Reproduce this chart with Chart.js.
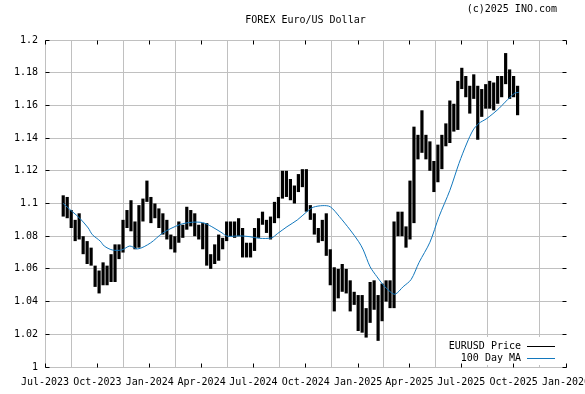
<!DOCTYPE html>
<html>
<head>
<meta charset="utf-8">
<title>FOREX Euro/US Dollar</title>
<script src="https://cdn.jsdelivr.net/npm/chart.js@4.4.1/dist/chart.umd.min.js"></script>
<style>
  html, body { margin: 0; padding: 0; background: #fff; }
  #wrap { width: 585px; height: 394px; }
</style>
</head>
<body>
<div id="wrap"><canvas id="fxChart" width="585" height="394"></canvas></div>
<script>
// axis: quarter starts and their labels
const tickDates = ['2023-07-01', '2023-10-01', '2024-01-01', '2024-04-01', '2024-07-01', '2024-10-01',
                   '2025-01-01', '2025-04-01', '2025-07-01', '2025-10-01', '2026-01-01'];
const tickLabels = ['Jul-2023', 'Oct-2023', 'Jan-2024', 'Apr-2024', 'Jul-2024', 'Oct-2024',
                    'Jan-2025', 'Apr-2025', 'Jul-2025', 'Oct-2025', 'Jan-2026'];
const yTicks = [1, 1.02, 1.04, 1.06, 1.08, 1.1, 1.12, 1.14, 1.16, 1.18, 1.2];

// EURUSD weekly low / high, one entry per week, first week starts Mon 31 Jul 2023
const firstWeek = '2023-07-31';
const weekLow = [
  1.092, 1.091, 1.085, 1.077, 1.078, 1.069, 1.063, 1.062, 1.049, 1.045,
  1.050, 1.050, 1.052, 1.052, 1.066, 1.070, 1.085, 1.083, 1.072, 1.073,
  1.089, 1.101, 1.088, 1.091, 1.085, 1.081, 1.078, 1.072, 1.070, 1.076,
  1.079, 1.084, 1.086, 1.080, 1.078, 1.072, 1.062, 1.060, 1.063, 1.065,
  1.072, 1.077, 1.080, 1.079, 1.080, 1.067, 1.067, 1.067, 1.071, 1.079,
  1.087, 1.082, 1.078, 1.088, 1.091, 1.103, 1.104, 1.102, 1.100, 1.107,
  1.110, 1.095, 1.090, 1.081, 1.076, 1.077, 1.068, 1.050, 1.034, 1.042,
  1.046, 1.045, 1.034, 1.038, 1.022, 1.021, 1.018, 1.027, 1.035, 1.016,
  1.028, 1.040, 1.036, 1.036, 1.080, 1.080, 1.073, 1.078, 1.088, 1.127,
  1.131, 1.127, 1.120, 1.107, 1.113, 1.121, 1.135, 1.137, 1.144, 1.145,
  1.170, 1.165, 1.155, 1.164, 1.139, 1.153, 1.158, 1.158, 1.157, 1.161,
  1.165, 1.173, 1.164, 1.165, 1.154
];
const weekHigh = [
  1.105, 1.104, 1.096, 1.090, 1.094, 1.080, 1.077, 1.073, 1.062, 1.059,
  1.064, 1.062, 1.069, 1.075, 1.075, 1.090, 1.096, 1.102, 1.089, 1.099,
  1.103, 1.114, 1.104, 1.100, 1.097, 1.094, 1.090, 1.081, 1.080, 1.089,
  1.087, 1.098, 1.096, 1.094, 1.087, 1.088, 1.088, 1.069, 1.075, 1.081,
  1.079, 1.089, 1.089, 1.089, 1.091, 1.085, 1.076, 1.076, 1.085, 1.091,
  1.095, 1.090, 1.092, 1.101, 1.104, 1.120, 1.120, 1.115, 1.111, 1.118,
  1.121, 1.121, 1.099, 1.094, 1.085, 1.090, 1.094, 1.072, 1.061, 1.060,
  1.063, 1.060, 1.053, 1.046, 1.044, 1.044, 1.036, 1.052, 1.053, 1.044,
  1.051, 1.053, 1.053, 1.089, 1.095, 1.095, 1.086, 1.114, 1.147, 1.142,
  1.157, 1.142, 1.138, 1.126, 1.136, 1.142, 1.149, 1.163, 1.161, 1.175,
  1.183, 1.178, 1.172, 1.179, 1.172, 1.170, 1.173, 1.175, 1.174, 1.178,
  1.178, 1.192, 1.182, 1.178, 1.172
];

// 100 day moving average
const maDates = [
  '2023-08-02', '2023-08-18', '2023-08-31', '2023-09-15', '2023-09-22', '2023-10-06', '2023-10-13',
  '2023-10-27', '2023-11-13', '2023-11-27', '2023-12-11', '2024-01-02', '2024-01-24', '2024-02-22',
  '2024-03-14', '2024-04-03', '2024-04-19', '2024-05-07', '2024-05-16', '2024-06-07', '2024-06-25',
  '2024-07-12', '2024-08-02', '2024-08-12', '2024-08-29', '2024-09-16', '2024-10-03', '2024-10-14',
  '2024-10-31', '2024-11-13', '2024-11-29', '2024-12-18', '2025-01-02', '2025-01-10', '2025-01-22',
  '2025-02-03', '2025-02-14', '2025-02-26', '2025-03-07', '2025-03-21', '2025-04-04', '2025-04-18',
  '2025-05-07', '2025-05-23', '2025-06-11', '2025-06-27', '2025-07-11', '2025-07-22', '2025-08-01',
  '2025-08-15', '2025-09-05', '2025-09-16', '2025-09-25', '2025-10-03', '2025-10-10'
];
const maValues = [
  1.100, 1.095, 1.091, 1.085, 1.081, 1.077, 1.074, 1.0716, 1.0716, 1.074, 1.0722,
  1.0758, 1.082, 1.087, 1.0885, 1.0883, 1.0858, 1.082, 1.080, 1.0802, 1.0797,
  1.0787, 1.079, 1.0815, 1.0858, 1.0899, 1.095, 1.0977, 1.0987, 1.098, 1.092,
  1.0838, 1.0766, 1.0716, 1.0613, 1.0552, 1.0502, 1.0461, 1.0445, 1.0491, 1.0535,
  1.064, 1.0763, 1.092, 1.108, 1.1245, 1.137, 1.145, 1.149, 1.152, 1.158,
  1.162, 1.165, 1.1675, 1.168
];

const DAY = 86400000;
const origin = Date.parse(tickDates[0]);
const dayOf = d => (Date.parse(d) - origin) / DAY;
const firstDay = dayOf(firstWeek);

const priceData = weekLow.map((lo, i) => ({ x: firstDay + i * 7 + 2, y: [lo, weekHigh[i]] }));
const maData = maDates.map((d, i) => ({ x: dayOf(d), y: maValues[i] }));

const fontFace = '"DejaVu Sans Mono", "Liberation Mono", monospace';
const gridGray = '#c0c0c0';
const maBlue = '#1378bd';

Chart.defaults.font.family = fontFace;
Chart.defaults.font.size = 10;
Chart.defaults.color = '#000';

const align = v => Math.round(v - 0.5) + 0.5;

// small black ticks on the inside of all four frame edges
const frameTicks = {
    id: 'frameTicks',
    afterDraw(chart) {
        const { ctx, chartArea: a, scales: { x, y } } = chart;
        const top = align(a.top), bottom = align(a.bottom);
        const left = align(a.left), right = align(a.right);
        ctx.save();
        ctx.strokeStyle = '#000';
        ctx.lineWidth = 1;
        ctx.beginPath();
        x.ticks.forEach(t => {
            const px = align(x.getPixelForValue(t.value));
            ctx.moveTo(px, bottom); ctx.lineTo(px, bottom - 4);
            ctx.moveTo(px, top); ctx.lineTo(px, top + 4);
        });
        y.ticks.forEach(t => {
            const py = align(y.getPixelForValue(t.value));
            ctx.moveTo(left, py); ctx.lineTo(left + 4, py);
            ctx.moveTo(right, py); ctx.lineTo(right - 4, py);
        });
        ctx.stroke();
        ctx.restore();
    }
};

const headings = {
    id: 'headings',
    afterDraw(chart) {
        const { ctx, chartArea: a } = chart;
        ctx.save();
        ctx.font = '10px ' + fontFace;
        ctx.fillStyle = '#000';
        ctx.textBaseline = 'middle';
        ctx.textAlign = 'center';
        ctx.fillText('FOREX Euro/US Dollar', (a.left + a.right) / 2, 20);
        ctx.textAlign = 'right';
        ctx.fillText('(c)2025 INO.com', 557, 9);
        ctx.restore();
    }
};

// legend box sits inside the plot, bottom right
const insetLegend = {
    id: 'insetLegend',
    afterDatasetsDraw(chart) {
        const { ctx } = chart;
        const items = [
            { label: 'EURUSD Price', color: '#000', y: 346 },
            { label: '100 Day MA', color: maBlue, y: 358 }
        ];
        ctx.save();
        ctx.fillStyle = '#fff';
        ctx.fillRect(444, 337, 120, 28);
        ctx.font = '10px ' + fontFace;
        ctx.textAlign = 'right';
        ctx.textBaseline = 'middle';
        items.forEach(it => {
            ctx.fillStyle = '#000';
            ctx.fillText(it.label, 521, it.y);
            ctx.strokeStyle = it.color;
            ctx.lineWidth = 1;
            ctx.beginPath();
            ctx.moveTo(527, it.y + 0.5);
            ctx.lineTo(555, it.y + 0.5);
            ctx.stroke();
        });
        ctx.restore();
    }
};

new Chart(document.getElementById('fxChart'), {
    type: 'bar',
    data: {
        datasets: [
            {
                type: 'line',
                label: '100 Day MA',
                data: maData,
                borderColor: maBlue,
                borderWidth: 1,
                pointRadius: 0,
                tension: 0.3,
                order: 0
            },
            {
                label: 'EURUSD Price',
                data: priceData,
                backgroundColor: '#000',
                borderWidth: 0,
                barPercentage: 0.8,
                categoryPercentage: 1,
                order: 1
            }
        ]
    },
    options: {
        responsive: false,
        animation: false,
        devicePixelRatio: 1,
        layout: { padding: { top: 40, right: 19, left: 0, bottom: 0 } },
        plugins: {
            legend: { display: false },
            tooltip: { enabled: false }
        },
        scales: {
            x: {
                type: 'linear',
                min: 0,
                max: dayOf(tickDates[tickDates.length - 1]),
                offset: false,
                grid: { color: gridGray, drawTicks: false },
                border: { color: gridGray },
                afterBuildTicks: s => { s.ticks = tickDates.map(d => ({ value: dayOf(d) })); },
                afterFit: s => { s.height = 27; s.paddingLeft = 0; s.paddingRight = 0; },
                ticks: {
                    autoSkip: false,
                    maxRotation: 0,
                    padding: 9,
                    callback: (v, i) => tickLabels[i]
                }
            },
            y: {
                min: 1,
                max: 1.2,
                grid: { color: gridGray, drawTicks: false },
                border: { color: gridGray },
                afterBuildTicks: s => { s.ticks = yTicks.map(v => ({ value: v })); },
                afterFit: s => { s.width = 45; },
                ticks: {
                    padding: 7,
                    callback: v => String(Number(v.toFixed(2)))
                }
            }
        }
    },
    plugins: [insetLegend, frameTicks, headings]
});
</script>
</body>
</html>
